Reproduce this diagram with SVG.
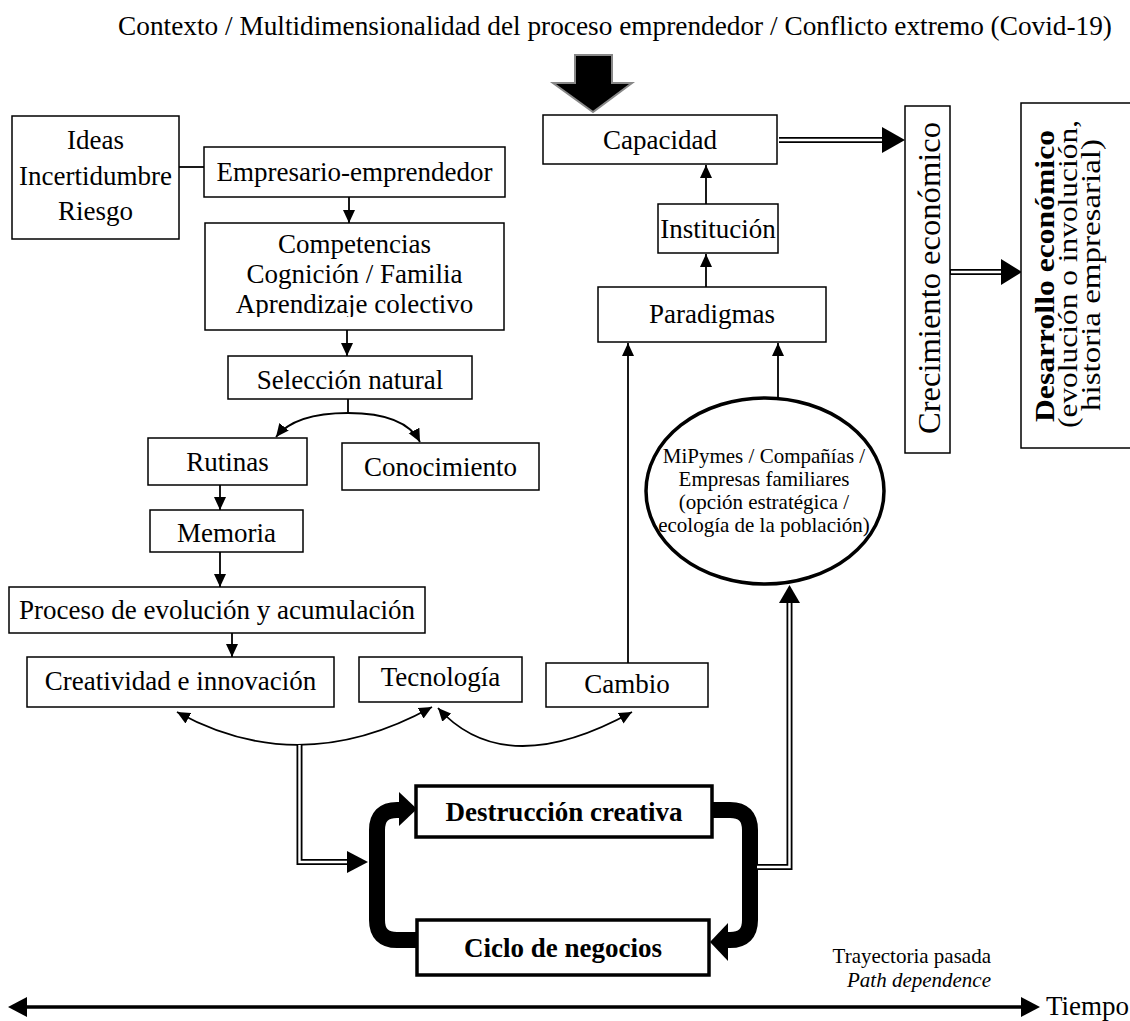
<svg xmlns="http://www.w3.org/2000/svg" width="1130" height="1021" viewBox="0 0 1130 1021">
<style>
text{font-family:"Liberation Serif","Times New Roman",serif;fill:#000}
.t{font-size:27px;text-anchor:middle}
.s{font-size:21px;text-anchor:middle}
.b{font-weight:bold}
.box{fill:#fff;stroke:#000;stroke-width:1.5}
.tbox{fill:#fff;stroke:#000;stroke-width:3.5}
.ln{fill:none;stroke:#000;stroke-width:1.8}
.dbl{fill:none;stroke:#000;stroke-width:6}
.dblw{fill:none;stroke:#fff;stroke-width:2.4}
.thick{fill:none;stroke:#000;stroke-width:16}
</style>
<defs>
<marker id="ah" viewBox="0 0 13 13" refX="13" refY="6.5" markerWidth="13" markerHeight="13" markerUnits="userSpaceOnUse" orient="auto-start-reverse"><path d="M0,0.5 L13,6.5 L0,12.5 z"/></marker>
<clipPath id="clipComp"><rect x="205" y="223" width="299" height="94"/></clipPath>
</defs>
<rect width="1130" height="1021" fill="#fff"/>
<text id="title" x="615" y="35" style="font-size:27.3px;text-anchor:middle">Contexto / Multidimensionalidad del proceso emprendedor / Conflicto extremo (Covid-19)</text>

<g id="connectors">
<polygon points="575,55 612,55 612,83 632,83 593,112 553,83 575,83" fill="#000" stroke="#888" stroke-width="2"/>
<line class="ln" x1="179" y1="167" x2="204" y2="167"/>
<line class="ln" x1="349" y1="197" x2="349" y2="223" marker-end="url(#ah)"/>
<line class="ln" x1="347" y1="330" x2="347" y2="356" marker-end="url(#ah)"/>
<line class="ln" x1="348" y1="399" x2="348" y2="413"/>
<path class="ln" d="M348,413 Q295,413 276,437" marker-end="url(#ah)"/>
<path class="ln" d="M348,413 Q405,413 420,442" marker-end="url(#ah)"/>
<line class="ln" x1="220" y1="485" x2="220" y2="510" marker-end="url(#ah)"/>
<line class="ln" x1="220" y1="552" x2="220" y2="587" marker-end="url(#ah)"/>
<line class="ln" x1="232" y1="633" x2="232" y2="657" marker-end="url(#ah)"/>
<path class="ln" d="M177,712 Q300,780 432,707" marker-start="url(#ah)" marker-end="url(#ah)"/>
<path class="ln" d="M438,708 Q505,782 632,712" marker-start="url(#ah)" marker-end="url(#ah)"/>
<path class="dbl" d="M299.5,745 V862 H350"/>
<path class="dblw" d="M299.5,745 V862 H351"/>
<polygon points="347,851 368,862 347,873"/>
<path class="thick" d="M417,940 H397 Q377,940 377,920 V830 Q377,810 397,810 H401"/>
<polygon points="399,792 417,809 399,826"/>
<path class="thick" d="M712,810 H730 Q750,810 750,830 V920 Q750,940 730,940 H726"/>
<polygon points="728,923 710,942 728,961"/>
<path class="dbl" d="M758,867 H789.5 V601"/>
<path class="dblw" d="M757,867 H789.5 V601"/>
<polygon points="779,603 789.5,585 800,603"/>
<line class="ln" x1="778" y1="399" x2="778" y2="343" marker-end="url(#ah)"/>
<line class="ln" x1="628" y1="663" x2="628" y2="343" marker-end="url(#ah)"/>
<line class="ln" x1="706" y1="287" x2="706" y2="254" marker-end="url(#ah)"/>
<line class="ln" x1="706" y1="204" x2="706" y2="165" marker-end="url(#ah)"/>
<path class="dbl" d="M779,140 H884"/>
<path class="dblw" d="M778,140 H885"/>
<polygon points="882,127 905,140 882,153"/>
<path class="dbl" d="M950,272 H1003"/>
<path class="dblw" d="M951,272 H1004"/>
<polygon points="1001,259 1022,272 1001,285"/>
<line x1="18" y1="1007" x2="1030" y2="1007" stroke="#000" stroke-width="3.5"/>
<polygon points="8,1007 27,997 27,1017"/>
<polygon points="1040,1007 1021,997 1021,1017"/>
</g>

<g id="ideas"><rect class="box" x="12" y="116" width="167" height="123"/>
<text class="t" x="95.5" y="149">Ideas</text><text class="t" x="95.5" y="185">Incertidumbre</text><text class="t" x="95.5" y="220">Riesgo</text></g>
<g id="empresario"><rect class="box" x="204" y="147" width="301" height="50"/><text class="t" x="354.5" y="181">Empresario-emprendedor</text></g>
<g id="competencias"><rect class="box" x="205" y="223" width="299" height="107"/>
<g clip-path="url(#clipComp)"><text class="t" x="354.5" y="253">Competencias</text><text class="t" x="354.5" y="283">Cognición / Familia</text><text class="t" x="354.5" y="313">Aprendizaje colectivo</text></g></g>
<g id="seleccion"><rect class="box" x="228" y="356" width="244" height="43"/><text class="t" x="350" y="389">Selección natural</text></g>
<g id="rutinas"><rect class="box" x="148" y="438" width="159" height="47"/><text class="t" x="227.5" y="471">Rutinas</text></g>
<g id="conocimiento"><rect class="box" x="342" y="443" width="197" height="47"/><text class="t" x="440.5" y="476">Conocimiento</text></g>
<g id="memoria"><rect class="box" x="150" y="510" width="153" height="42"/><text class="t" x="226.5" y="542">Memoria</text></g>
<g id="proceso"><rect class="box" x="9" y="587" width="416" height="46"/><text class="t" x="217" y="619">Proceso de evolución y acumulación</text></g>
<g id="creatividad"><rect class="box" x="27" y="657" width="307" height="50"/><text class="t" x="180.5" y="690">Creatividad e innovación</text></g>
<g id="tecnologia"><rect class="box" x="359" y="657" width="163" height="45"/><text class="t" x="440.5" y="686">Tecnología</text></g>
<g id="cambio"><rect class="box" x="546" y="663" width="162" height="44"/><text class="t" x="627" y="693">Cambio</text></g>
<g id="destruccion"><rect class="tbox" x="416" y="786" width="296" height="51"/><text class="t b" x="564" y="821">Destrucción creativa</text></g>
<g id="ciclo"><rect class="tbox" x="417" y="920" width="292" height="55"/><text class="t b" x="563" y="957">Ciclo de negocios</text></g>
<g id="mipymes"><ellipse cx="765" cy="491" rx="119" ry="93" fill="#fff" stroke="#000" stroke-width="3.5"/>
<text class="s" x="764" y="463">MiPymes / Compañías /</text><text class="s" x="764" y="486">Empresas familiares</text><text class="s" x="764" y="509">(opción estratégica /</text><text class="s" x="764" y="532">ecología de la población)</text></g>
<g id="paradigmas"><rect class="box" x="598" y="287" width="228" height="55"/><text class="t" x="712" y="323">Paradigmas</text></g>
<g id="institucion"><rect class="box" x="658" y="204" width="120" height="49"/><text class="t" x="718" y="238">Institución</text></g>
<g id="capacidad"><rect class="box" x="543" y="115" width="234" height="49"/><text class="t" x="660" y="149">Capacidad</text></g>
<g id="crecimiento"><rect class="box" x="905" y="106" width="45" height="347"/>
<text transform="translate(940,278) rotate(-90)" style="font-size:32px;text-anchor:middle" textLength="312" lengthAdjust="spacingAndGlyphs">Crecimiento económico</text></g>
<g id="desarrollo"><rect class="box" x="1021" y="103" width="120" height="345"/>
<text transform="translate(1054,276) rotate(-90)" class="b" style="font-size:27px;text-anchor:middle" textLength="292" lengthAdjust="spacingAndGlyphs">Desarrollo económico</text>
<text transform="translate(1077,274) rotate(-90)" style="font-size:27px;text-anchor:middle" textLength="308" lengthAdjust="spacingAndGlyphs">(evolución o involución,</text>
<text transform="translate(1100,275) rotate(-90)" style="font-size:27px;text-anchor:middle" textLength="272" lengthAdjust="spacingAndGlyphs">historia empresarial)</text></g>
<g id="tiempo"><text x="1046" y="1015" style="font-size:27px">Tiempo</text></g>
<g id="path"><text x="991" y="963" style="font-size:21px;text-anchor:end">Trayectoria pasada</text><text x="991" y="987" style="font-size:21px;text-anchor:end;font-style:italic">Path dependence</text></g>
</svg>
